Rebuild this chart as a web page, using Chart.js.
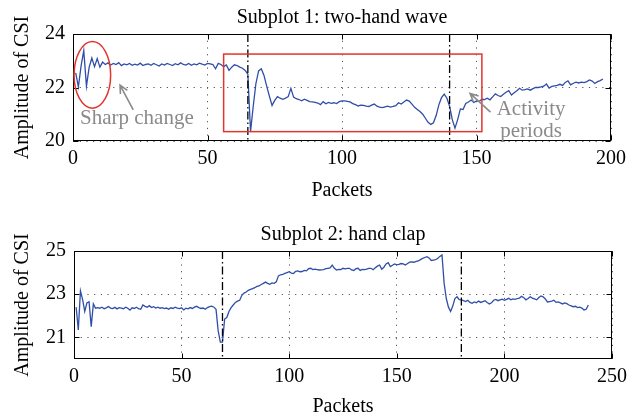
<!DOCTYPE html>
<html><head><meta charset="utf-8">
<script src="https://cdn.jsdelivr.net/npm/chart.js@4.4.0/dist/chart.umd.min.js"></script>
<style>
html,body{margin:0;padding:0;background:#fff;}
#w{position:relative;width:644px;height:419px;overflow:hidden;}
canvas{position:absolute;left:0;}
#c1{top:0;}
#c2{top:205px;}
</style></head><body>
<div id="w">
<canvas id="c1" width="644" height="205"></canvas>
<canvas id="c2" width="644" height="214"></canvas>
</div>
<script>
const FONT = "'Liberation Serif', 'Times New Roman', serif";

// Subplot 1: two-hand wave, amplitude per packet (packets 1..197)
const waveY = [
22.55,22.02,22.8,23.38,22.05,22.75,23.1,22.78,23.08,22.76,
22.95,22.86,22.92,22.84,22.9,22.86,22.93,22.82,22.88,22.85,
22.9,22.83,22.87,22.84,22.91,22.82,22.86,22.88,22.83,22.9,
22.85,22.8,22.88,22.84,22.9,22.86,22.82,22.89,22.85,22.92,
22.86,22.84,22.9,22.83,22.88,22.85,22.91,22.87,22.84,22.9,
22.88,22.86,22.7,22.9,22.86,22.78,22.84,22.64,22.76,22.85,
22.82,22.76,22.72,22.64,22.5,20.35,21.3,22.15,22.62,22.7,
22.45,22.05,21.68,21.33,21.52,21.66,21.6,21.56,21.6,21.66,
21.97,21.64,21.58,21.55,21.5,21.56,21.52,21.47,21.46,21.44,
21.42,21.36,21.47,21.39,21.44,21.41,21.43,21.4,21.47,21.5,
21.5,21.48,21.46,21.4,21.36,21.31,21.34,21.33,21.3,21.29,
21.34,21.38,21.3,21.27,21.25,21.28,21.3,21.27,21.29,21.32,
21.43,21.38,21.46,21.53,21.49,21.38,21.26,21.18,21.1,21.0,
20.85,20.7,20.62,20.68,20.95,21.35,21.62,21.75,21.6,21.3,
20.8,20.48,20.8,21.2,21.18,21.4,21.46,21.53,21.44,21.5,
21.48,21.56,21.55,21.6,21.54,21.65,21.76,21.7,21.66,21.75,
21.82,21.88,21.72,21.8,21.88,21.97,21.9,21.92,21.95,21.9,
21.96,22.0,22.0,22.02,22.05,22.13,21.98,22.04,22.06,22.08,
22.12,22.08,22.19,22.25,22.1,22.16,22.2,22.17,22.2,22.18,
22.22,22.28,22.24,22.15,22.22,22.26,22.32
];

// Subplot 2: hand clap, amplitude per packet (packets 1..239)
const clapY = [
22.4,21.35,23.15,22.75,22.2,22.6,22.65,21.5,22.55,22.35,
22.38,22.35,22.4,22.33,22.37,22.43,22.36,22.34,22.39,22.32,
22.38,22.36,22.33,22.4,22.35,22.26,22.37,22.34,22.4,22.33,
22.3,22.5,22.44,22.4,22.47,22.38,22.42,22.36,22.4,22.35,
22.38,22.33,22.36,22.3,22.37,22.34,22.4,22.36,22.33,22.37,
22.27,22.35,22.32,22.38,22.34,22.4,22.44,22.38,22.34,22.36,
22.3,22.38,22.42,22.45,22.4,22.3,21.3,20.78,20.78,21.85,
21.92,22.2,22.38,22.5,22.62,22.68,22.72,22.95,23.05,23.1,
23.18,23.22,23.26,23.3,23.36,23.38,23.45,23.5,23.56,23.5,
23.46,23.52,23.5,23.57,23.85,23.9,23.92,23.96,24.0,24.04,
23.98,23.96,24.06,24.08,24.04,24.05,24.1,24.08,24.18,24.2,
24.14,24.16,24.14,24.12,24.13,24.14,24.18,24.2,24.22,24.35,
24.2,24.12,24.15,24.14,24.2,24.17,24.2,24.2,24.12,24.1,
24.18,24.2,24.1,24.15,24.14,24.16,24.2,24.2,24.13,24.22,
24.3,24.35,24.16,24.25,24.4,24.46,24.28,24.34,24.4,24.36,
24.38,24.42,24.4,24.35,24.42,24.48,24.5,24.48,24.52,24.54,
24.6,24.66,24.7,24.74,24.68,24.56,24.58,24.6,24.65,24.75,
24.82,23.5,22.8,22.4,22.2,22.45,22.8,22.88,22.75,22.74,
22.7,22.66,22.72,22.62,22.58,22.64,22.6,22.68,22.62,22.66,
22.7,22.62,22.55,22.6,22.72,22.76,22.7,22.74,22.77,22.72,
22.76,22.81,22.74,22.78,22.76,22.8,22.82,22.9,22.84,22.74,
22.8,22.88,22.82,22.78,22.74,22.85,22.92,22.88,22.78,22.64,
22.66,22.68,22.72,22.62,22.64,22.6,22.55,22.6,22.56,22.5,
22.46,22.42,22.44,22.38,22.4,22.36,22.27,22.3,22.5
];

const waveXTicks = [0,50,100,150,200];
const waveYTicks = [20,22,24];
const clapXTicks = [0,50,100,150,200,250];
const clapYTicks = [21,23,25];
const waveMarks = [65,140];
const clapMarks = [69,180];
const waveTitle = 'Subplot 1: two-hand wave';
const clapTitle = 'Subplot 2: hand clap';
const xTitle = 'Packets';
const yTitle = 'Amplitude of CSI';

// annotations (data coordinates)
const waveRect = {x0:56, x1:152, y0:20.35, y1:23.25};
const waveEllipse = {cx:7.2, cy:22.47, rx:6.8, ry:1.245};
const waveTexts = [
  {text:'Sharp change', x:2.6, y:20.62, align:'left'},
  {text:'Activity', x:170.3, y:20.97, align:'center'},
  {text:'periods', x:170.3, y:20.15, align:'center'}
];
const waveArrows = [
  {x0:22.4, y0:21.16, x1:17.5, y1:22.09},
  {x0:155.2, y0:21.08, x1:147.6, y1:21.78}
];

function pts(arr){ return arr.map((v,i)=>({x:i+1, y:v})); }

const decor = {
  id:'decor',
  afterDatasetsDraw(chart, args, o){
    const {ctx, chartArea:a, scales:{x, y}} = chart;
    const L = Math.round(a.left)+0.5, R = Math.round(a.right)-0.5,
          T = Math.round(a.top)+0.5, B = Math.round(a.bottom)-0.5;
    ctx.save();
    ctx.setLineDash([]);
    ctx.strokeStyle = '#000'; ctx.lineWidth = 1;
    ctx.strokeRect(L, T, R-L, B-T);
    ctx.beginPath();
    x.ticks.forEach(t=>{
      const px = Math.round(x.getPixelForValue(t.value))+0.5;
      ctx.moveTo(px,B); ctx.lineTo(px,B-5);
      ctx.moveTo(px,T); ctx.lineTo(px,T+5);
    });
    y.ticks.forEach(t=>{
      const py = Math.round(y.getPixelForValue(t.value))+0.5;
      ctx.moveTo(L,py); ctx.lineTo(L+5,py);
      ctx.moveTo(R,py); ctx.lineTo(R-5,py);
    });
    ctx.stroke();
    // dash-dot markers
    ctx.setLineDash([8,3,1.5,3]); ctx.lineWidth = 1.3;
    (o.marks||[]).forEach(m=>{
      const px = x.getPixelForValue(m);
      ctx.beginPath(); ctx.moveTo(px,a.top); ctx.lineTo(px,a.bottom); ctx.stroke();
    });
    ctx.setLineDash([]);
    if (o.rect){
      const r = o.rect;
      const x0 = x.getPixelForValue(r.x0), x1 = x.getPixelForValue(r.x1);
      const y0 = y.getPixelForValue(r.y0), y1 = y.getPixelForValue(r.y1);
      ctx.strokeStyle = '#e2352d'; ctx.lineWidth = 1.5;
      ctx.strokeRect(x0, y1, x1-x0, y0-y1);
    }
    if (o.ellipse){
      const e = o.ellipse;
      const cx = x.getPixelForValue(e.cx), cy = y.getPixelForValue(e.cy);
      const rx = x.getPixelForValue(e.cx+e.rx)-cx, ry = cy - y.getPixelForValue(e.cy+e.ry);
      ctx.strokeStyle = '#e2352d'; ctx.lineWidth = 1.5;
      ctx.beginPath(); ctx.ellipse(cx, cy, rx, ry, 0, 0, Math.PI*2); ctx.stroke();
    }
    ctx.fillStyle = '#8a8a8a';
    ctx.font = '21px ' + FONT;
    ctx.textBaseline = 'alphabetic';
    (o.texts||[]).forEach(t=>{
      ctx.textAlign = t.align;
      ctx.fillText(t.text, x.getPixelForValue(t.x), y.getPixelForValue(t.y));
    });
    ctx.strokeStyle = '#8a8a8a'; ctx.lineWidth = 1.6;
    (o.arrows||[]).forEach(ar=>{
      const x0 = x.getPixelForValue(ar.x0), y0 = y.getPixelForValue(ar.y0);
      const x1 = x.getPixelForValue(ar.x1), y1 = y.getPixelForValue(ar.y1);
      const ang = Math.atan2(y1-y0, x1-x0), h = 9;
      ctx.beginPath();
      ctx.moveTo(x0,y0); ctx.lineTo(x1,y1);
      ctx.moveTo(x1 - h*Math.cos(ang-0.45), y1 - h*Math.sin(ang-0.45));
      ctx.lineTo(x1,y1);
      ctx.lineTo(x1 - h*Math.cos(ang+0.45), y1 - h*Math.sin(ang+0.45));
      ctx.stroke();
    });
    ctx.restore();
  }
};

function makeChart(id, cfg){
  return new Chart(document.getElementById(id), {
    type:'line',
    data:{datasets:[{data:pts(cfg.values), borderColor:'#2f4ea8', borderWidth:1.3,
      pointRadius:0, tension:0, fill:false}]},
    options:{
      responsive:false, animation:false, devicePixelRatio:1,
      layout:{padding:{left:0, right:cfg.right, top:0, bottom:0}},
      plugins:{
        legend:{display:false}, tooltip:{enabled:false},
        title:{display:true, text:cfg.title, fullSize:false, color:'#000',
          font:{family:FONT, size:20, weight:'normal'}, padding:cfg.titlePad},
        decor:cfg.decor
      },
      scales:{
        x:{type:'linear', min:cfg.xmin, max:cfg.xmax,
          afterBuildTicks:s=>{s.ticks = cfg.xticks.map(v=>({value:v}));},
          afterFit:s=>{s.height = cfg.xh;},
          grid:{color:'#555', lineWidth:1, drawTicks:false},
          border:{display:false, dash:[1.2,5.5]},
          ticks:{color:'#000', padding:6, font:{family:FONT, size:20}, maxRotation:0},
          title:{display:true, text:xTitle, color:'#000', font:{family:FONT, size:20}, padding:{top:0,bottom:cfg.xtb}}
        },
        y:{min:cfg.ymin, max:cfg.ymax,
          afterBuildTicks:s=>{s.ticks = cfg.yticks.map(v=>({value:v}));},
          afterFit:s=>{s.width = cfg.yw;},
          grid:{color:'#555', lineWidth:1, drawTicks:false},
          border:{display:false, dash:[1.2,5.5]},
          ticks:{color:'#000', padding:8, font:{family:FONT, size:20}},
          title:{display:true, text:yTitle, color:'#000', font:{family:FONT, size:20}, padding:{top:11,bottom:0}}
        }
      }
    },
    plugins:[decor]
  });
}

makeChart('c1', {values:waveY, title:waveTitle, titlePad:{top:6,bottom:4}, right:33,
  xmin:0, xmax:200, ymin:20, ymax:24, xticks:waveXTicks, yticks:waveYTicks, xh:64, yw:73, xtb:2,
  decor:{marks:waveMarks, rect:waveRect, ellipse:waveEllipse, texts:waveTexts, arrows:waveArrows}});
makeChart('c2', {values:clapY, title:clapTitle, titlePad:{top:18,bottom:4}, right:32,
  xmin:0, xmax:250, ymin:20, ymax:25, xticks:clapXTicks, yticks:clapYTicks, xh:60, yw:74, xtb:0,
  decor:{marks:clapMarks}});
</script>
</body></html>
